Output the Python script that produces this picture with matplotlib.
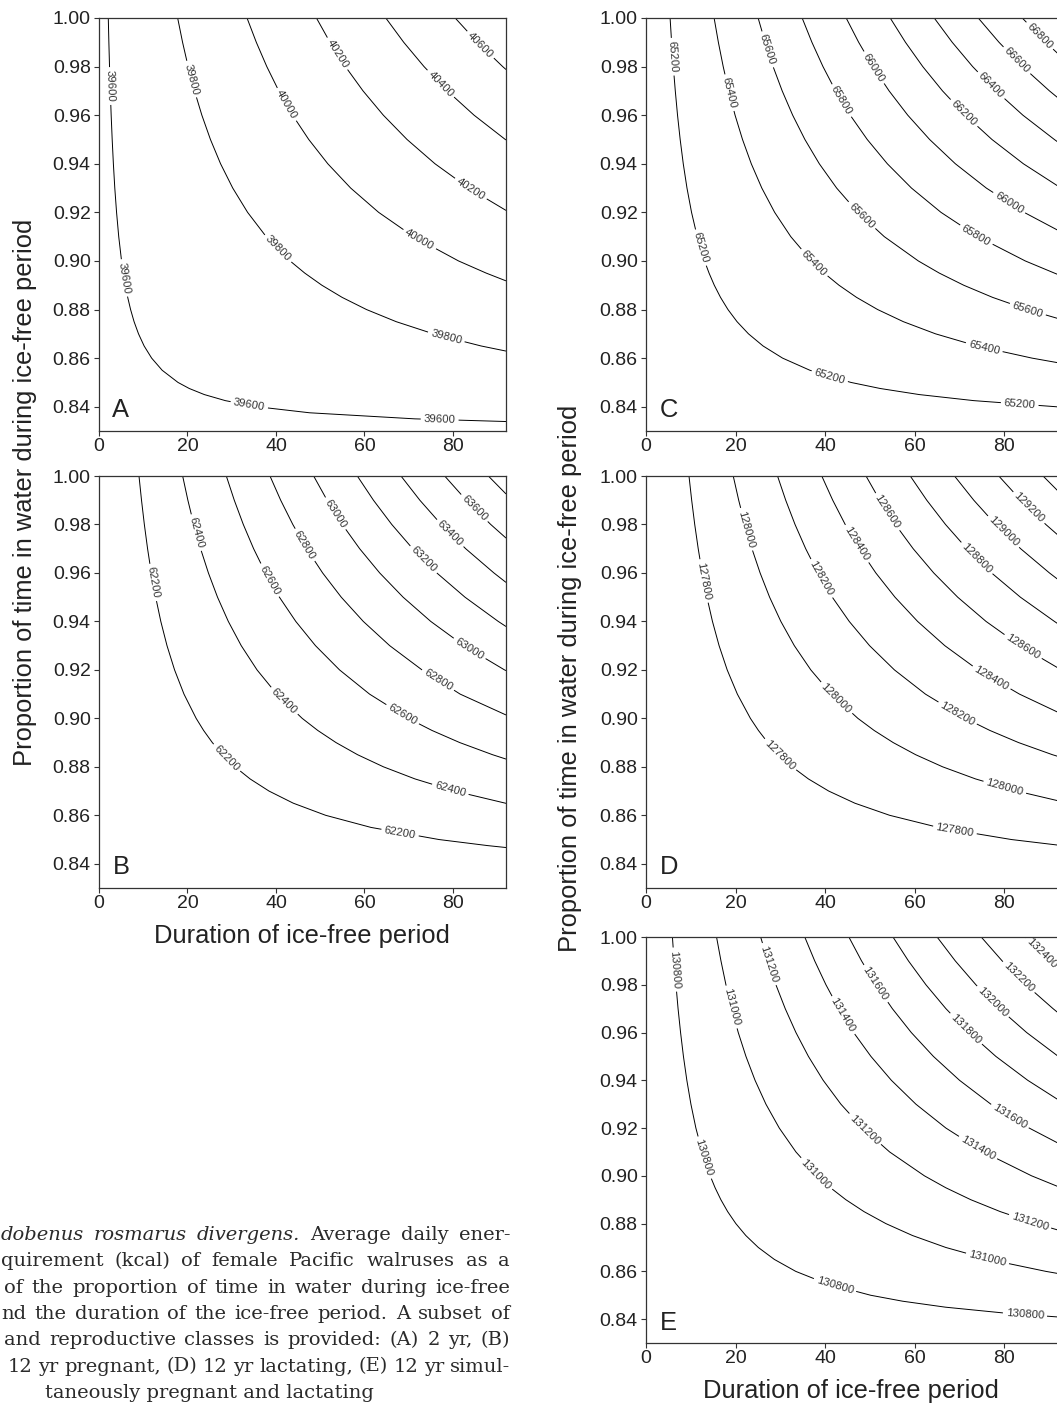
import numpy as np
import matplotlib
matplotlib.use('Agg')
import matplotlib.pyplot as plt
from matplotlib.contour import ContourSet

plt.rcParams['font.family'] = ['Liberation Sans', 'DejaVu Sans']

###############################################
################### DATA ######################

# proportion of time in water at which each contour's duration was read
prop_stops = [1.00, 0.99, 0.98, 0.97, 0.96, 0.95, 0.94, 0.93, 0.92, 0.91,
              0.90, 0.895, 0.89, 0.885, 0.88, 0.875, 0.87, 0.865, 0.86, 0.855,
              0.85, 0.8475, 0.845, 0.8425, 0.84, 0.8375, 0.835]

# (A) 2 yr
levels_a = [39600, 39800, 40000, 40200, 40400, 40600]
dur_a = [
    [2.10, 2.23, 2.38, 2.55, 2.75, 2.98, 3.25, 3.57, 3.97, 4.46, 5.10, 5.49, 5.95, 6.49,
     7.14, 7.93, 8.93, 10.2, 11.9, 14.28, 17.85, 20.4, 23.8, 28.56, 35.7, 47.6, 71.4],
    [17.78, 18.89, 20.15, 21.59, 23.25, 25.19, 27.48, 30.23, 33.59, 37.79, 43.19, 46.51,
     50.38, 54.96, 60.46, 67.18, 75.58, 86.37],
    [33.46, 35.56, 37.93, 40.64, 43.76, 47.41, 51.72, 56.89, 63.21, 71.11, 81.27, 87.52],
    [49.15, 52.22, 55.70, 59.68, 64.27, 69.63, 75.95, 83.55],
    [64.83, 68.88, 73.47, 78.72, 84.78, 91.84],
    [80.51, 85.54, 91.25],
]
edge_a = [0.8339, 0.8629, 0.8918, 0.9208, 0.9498, 0.9788]

# (B)
levels_b = [62200, 62400, 62600, 62800, 63000, 63200, 63400, 63600, 63800]
dur_b = [
    [9.04, 9.61, 10.25, 10.98, 11.82, 12.81, 13.97, 15.37, 17.08, 19.21, 21.96, 23.65,
     25.62, 27.95, 30.74, 34.16, 38.43, 43.91, 51.23, 61.48, 76.85, 87.83],
    [18.91, 20.09, 21.43, 22.96, 24.73, 26.79, 29.23, 32.15, 35.72, 40.19, 45.93, 49.46,
     53.58, 58.45, 64.30, 71.44, 80.38, 91.86],
    [28.78, 30.58, 32.62, 34.95, 37.64, 40.78, 44.48, 48.93, 54.37, 61.16, 69.90, 75.28,
     81.55, 88.96],
    [38.65, 41.07, 43.81, 46.94, 50.55, 54.76, 59.74, 65.71, 73.01, 81.64],
    [48.52, 51.56, 54.99, 58.92, 63.45, 68.74, 74.99, 82.49, 91.66],
    [58.39, 62.04, 66.18, 70.91, 76.36, 82.73, 90.25],
    [68.26, 72.53, 77.37, 82.89, 89.27],
    [78.14, 83.02, 88.55],
    [88.01],
]
edge_b = [0.8467, 0.8649, 0.8832, 0.9014, 0.9197, 0.9379, 0.9561, 0.9744, 0.9926]

# (C) 12 yr pregnant
levels_c = [65200, 65400, 65600, 65800, 66000, 66200, 66400, 66600, 66800]
dur_c = [
    [5.38, 5.72, 6.10, 6.54, 7.04, 7.63, 8.32, 9.15, 10.17, 11.44, 13.07, 14.08, 15.25,
     16.64, 18.30, 20.33, 22.88, 26.14, 30.50, 36.60, 45.75, 52.29, 61.00, 73.20, 91.50],
    [15.21, 16.16, 17.24, 18.47, 19.89, 21.55, 23.51, 25.86, 28.73, 32.33, 36.94, 39.78,
     43.10, 47.02, 51.72, 57.47, 64.65, 73.89, 86.20],
    [25.04, 26.61, 28.38, 30.41, 32.75, 35.48, 38.70, 42.57, 47.30, 53.21, 60.81, 65.49,
     70.95, 77.40, 85.14],
    [34.87, 37.05, 39.52, 42.34, 45.60, 49.40, 53.89, 59.28, 65.87, 74.10, 84.69, 91.2],
    [44.70, 47.49, 50.66, 54.28, 58.45, 63.33, 69.08, 75.99, 84.43],
    [54.53, 57.94, 61.80, 66.21, 71.31, 77.25, 84.27],
    [64.36, 68.38, 72.94, 78.15, 84.16, 91.18],
    [74.19, 78.83, 84.08, 90.09],
    [84.02, 89.27],
]
edge_c = [0.8399, 0.8581, 0.8763, 0.8944, 0.9126, 0.9308, 0.9489, 0.9671, 0.9853]

# (D) 12 yr lactating
levels_d = [127800, 128000, 128200, 128400, 128600, 128800, 129000, 129200, 129400]
dur_d = [
    [9.60, 10.20, 10.88, 11.66, 12.55, 13.60, 14.84, 16.32, 18.13, 20.40, 23.31, 25.11,
     27.20, 29.67, 32.64, 36.27, 40.80, 46.63, 54.40, 65.28, 81.60],
    [19.48, 20.70, 22.08, 23.66, 25.48, 27.60, 30.11, 33.12, 36.80, 41.40, 47.31, 50.95,
     55.20, 60.22, 66.24, 73.60, 82.80],
    [29.37, 31.20, 33.28, 35.66, 38.40, 41.60, 45.38, 49.92, 55.47, 62.40, 71.31, 76.80,
     83.20, 90.76],
    [39.25, 41.70, 44.48, 47.66, 51.32, 55.60, 60.65, 66.72, 74.13, 83.40],
    [49.13, 52.20, 55.68, 59.66, 64.25, 69.60, 75.93, 83.52],
    [59.01, 62.70, 66.88, 71.66, 77.17, 83.60, 91.20],
    [68.89, 73.20, 78.08, 83.66, 90.09],
    [78.78, 83.70, 89.28],
    [88.66],
]
edge_d = [0.8477, 0.8660, 0.8843, 0.9025, 0.9208, 0.9390, 0.9573, 0.9756, 0.9938]

# (E) 12 yr pregnant and lactating
levels_e = [130800, 131000, 131200, 131400, 131600, 131800, 132000, 132200, 132400]
dur_e = [
    [5.90, 6.27, 6.69, 7.16, 7.72, 8.36, 9.12, 10.03, 11.14, 12.54, 14.33, 15.43, 16.72,
     18.24, 20.06, 22.29, 25.08, 28.66, 33.43, 40.12, 50.15, 57.31, 66.87, 80.24],
    [15.75, 16.74, 17.85, 19.13, 20.60, 22.32, 24.35, 26.78, 29.76, 33.48, 38.26, 41.20,
     44.63, 48.69, 53.56, 59.51, 66.95, 76.51, 89.27],
    [25.60, 27.20, 29.01, 31.09, 33.48, 36.27, 39.56, 43.52, 48.36, 54.40, 62.17, 66.95,
     72.53, 79.13, 87.04],
    [35.45, 37.67, 40.18, 43.05, 46.36, 50.23, 54.79, 60.27, 66.97, 75.34, 86.10],
    [45.30, 48.13, 51.34, 55.01, 59.24, 64.18, 70.01, 77.01, 85.57],
    [55.15, 58.60, 62.51, 66.97, 72.12, 78.13, 85.24],
    [65.00, 69.06, 73.67, 78.93, 85.00],
    [74.85, 79.53, 84.83, 90.89],
    [84.70, 89.99],
]
edge_e = [0.8409, 0.8591, 0.8773, 0.8955, 0.9137, 0.9319, 0.9501, 0.9683, 0.9865]

x_max = 92
x_ticks = [0, 20, 40, 60, 80]
y_ticks = [0.84, 0.86, 0.88, 0.90, 0.92, 0.94, 0.96, 0.98, 1.00]

y_title = 'Proportion of time in water during ice-free period'
x_title = 'Duration of ice-free period'

caption_lines = [
    'dobenus rosmarus divergens. Average daily ener-',
    'quirement (kcal) of female Pacific walruses as a',
    'of the proportion of time in water during ice-free',
    'nd the duration of the ice-free period. A subset of',
    'and reproductive classes is provided: (A) 2 yr, (B)',
    '12 yr pregnant, (D) 12 yr lactating, (E) 12 yr simul-',
    'taneously pregnant and lactating',
]
italic_words = 3

#################################################
################### LAYOUT ######################

# where the contour labels sit (data coords)
lab_a = [(2.5, 0.972), (5.65, 0.893), (34, 0.841), (77, 0.8346),
         (20.2, 0.9745), (40.4, 0.905), (78.4, 0.868),
         (42, 0.964), (72.5, 0.909), (53.6, 0.985), (83.8, 0.929),
         (76.7, 0.972), (85.7, 0.988)]
lab_b = [(12.0, 0.956), (28.7, 0.8834), (68.0, 0.8523),
         (21.5, 0.9764), (41.5, 0.9065), (79.3, 0.870),
         (38.1, 0.9565), (68.4, 0.901), (46.2, 0.9712), (76.5, 0.9154),
         (53.0, 0.984), (83.5, 0.928), (72.9, 0.9647), (79.0, 0.9757), (84.6, 0.9863)]
lab_c = [(5.5, 0.984), (11.7, 0.9052), (40.9, 0.8517), (83.4, 0.8398),
         (18.1, 0.969), (37.1, 0.8984), (75.4, 0.8634),
         (26.7, 0.9868), (47.7, 0.9178), (85.1, 0.8791),
         (43.3, 0.9656), (73.5, 0.910), (50.4, 0.979), (81.0, 0.9237),
         (70.5, 0.960), (76.9, 0.972), (82.5, 0.982), (87.7, 0.9923)]
lab_d = [(12.4, 0.9565), (29.7, 0.8845), (68.9, 0.853),
         (22.0, 0.9778), (42.2, 0.9078), (80.0, 0.8708),
         (38.7, 0.9572), (69.4, 0.9016), (46.7, 0.9716), (76.9, 0.916),
         (53.4, 0.9846), (84.0, 0.929), (73.5, 0.9654), (79.5, 0.9764), (85.0, 0.986)]
lab_e = [(6.0, 0.9863), (12.7, 0.9074), (42.1, 0.8536), (84.6, 0.8413),
         (18.7, 0.9705), (38.2, 0.9011), (76.1, 0.8643),
         (27.1, 0.9884), (48.4, 0.9185), (85.7, 0.8806),
         (43.8, 0.967), (73.9, 0.9111), (50.9, 0.980), (81.2, 0.9248),
         (71.2, 0.9611), (77.1, 0.9723), (82.8, 0.9824), (88.1, 0.9926)]

W, H = 1057, 1412
fig = plt.figure(figsize=(W / 100, H / 100), dpi=100)


def px_rect(left, top, right, bottom):
    return [left / W, 1 - bottom / H, (right - left) / W, (bottom - top) / H]


panels = [
    ('A', levels_a, dur_a, edge_a, lab_a, (99, 18, 506, 431)),
    ('B', levels_b, dur_b, edge_b, lab_b, (99, 476, 506, 888)),
    ('C', levels_c, dur_c, edge_c, lab_c, (646, 18, 1058, 431)),
    ('D', levels_d, dur_d, edge_d, lab_d, (646, 476, 1058, 888)),
    ('E', levels_e, dur_e, edge_e, lab_e, (646, 937, 1058, 1343)),
]

axis_col = '#333333'

for letter, levels, durs, edges, labs, box in panels:
    ax = fig.add_axes(px_rect(*box))

    # one path per contour level, ending where it meets the right edge
    segs = []
    for d, e in zip(durs, edges):
        pts = list(zip(d, prop_stops)) + [(x_max, e)]
        segs.append([np.array(pts)])
    cs = ContourSet(ax, np.array(levels, dtype=float), segs,
                    colors='black', linewidths=0.7)

    ax.set_xlim(0, x_max)
    ax.set_ylim(0.83, 1.00)
    ax.set_xticks(x_ticks)
    ax.set_yticks(y_ticks)
    ax.set_yticklabels(['%.2f' % v for v in y_ticks])
    ax.tick_params(axis='both', direction='out', length=3.6, width=0.8,
                   labelsize=14, color=axis_col, labelcolor='#222222')
    ax.tick_params(axis='x', pad=1.5)
    ax.tick_params(axis='y', pad=2.4)
    for sp in ax.spines.values():
        sp.set_color(axis_col)
        sp.set_linewidth(0.9)

    ax.clabel(cs, manual=labs, inline=True, inline_spacing=3,
              fontsize=8.2, colors='#333333', fmt='%d')

    ax.text(0.033, 0.033, letter, transform=ax.transAxes, fontsize=18.4,
            va='baseline', ha='left', color='#222222')

# axis titles
fig.text(25 / W, 1 - 492 / H, y_title, rotation=90, ha='center', va='center',
         fontsize=18.4, color='#222222')
fig.text(570 / W, 1 - 678 / H, y_title, rotation=90, ha='center', va='center',
         fontsize=18.4, color='#222222')
fig.text(302 / W, 1 - 943 / H, x_title, ha='center', va='baseline',
         fontsize=18.4, color='#222222')
fig.text(851 / W, 1 - 1398 / H, x_title, ha='center', va='baseline',
         fontsize=18.4, color='#222222')

#################################################
################### CAPTION #####################

renderer = fig.canvas.get_renderer()
cap_font = dict(family='DejaVu Serif', fontsize=14, color='#2a2a2a', va='baseline')
line_left = [0.5, 0.5, 4, 1, 4, 8, 45]
right_edge = 510

for i, line in enumerate(caption_lines):
    base = 1 - (1240 + 26.3 * i) / H
    if i == len(caption_lines) - 1:
        fig.text(line_left[i] / W, base, line, ha='left', **cap_font)
        continue
    words = line.split(' ')
    styles = ['italic' if (i == 0 and k < italic_words) else 'normal'
              for k in range(len(words))]
    widths = []
    for w, st in zip(words, styles):
        t = fig.text(0, 0, w, style=st, **cap_font)
        widths.append(t.get_window_extent(renderer).width)
        t.remove()
    gap = (right_edge - line_left[i] - sum(widths)) / (len(words) - 1)
    x = line_left[i]
    for w, st, wd in zip(words, styles, widths):
        fig.text(x / W, base, w, style=st, ha='left', **cap_font)
        x += wd + gap

fig.savefig('out.png', dpi=100)
